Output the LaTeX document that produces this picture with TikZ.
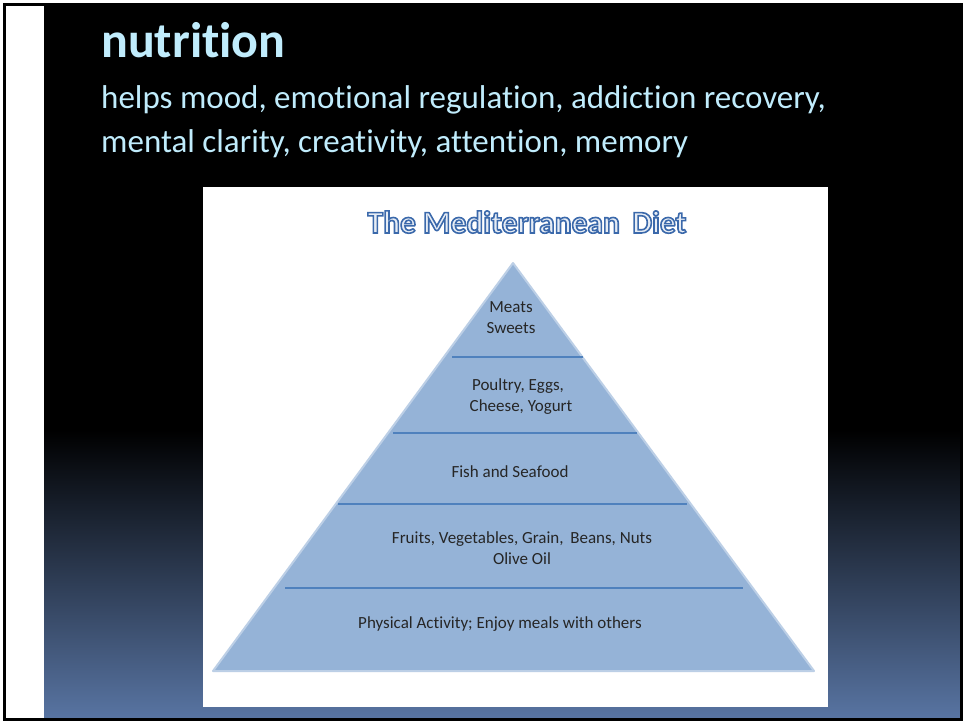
\documentclass[tikz,border=0pt]{standalone}
\usepackage{fontspec}
\setmainfont{Carlito}[Ligatures=NoCommon]
\usepackage{tikz}
\definecolor{headblue}{RGB}{192,236,252}
\definecolor{slatebot}{RGB}{88,116,162}
\definecolor{tierfill}{RGB}{149,179,215}
\definecolor{tieredge}{RGB}{188,207,230}
\definecolor{tierline}{RGB}{79,129,189}
\definecolor{titleblue}{RGB}{58,104,170}
% outlined letters: fill then stroke
\newcommand{\outlinetext}[1]{\special{pdf:literal direct 2 Tr 1.6 w 0.23 0.41 0.67 RG}#1\special{pdf:literal direct 0 Tr}}

\begin{document}
\begin{tikzpicture}[x=1pt, y=-1pt,
  heading/.style={anchor=base west, inner sep=0pt, text=headblue},
  dietname/.style={anchor=base, inner sep=0pt, font=\bfseries\fontsize{31.5}{31.5}\selectfont},
  tierlabel/.style={anchor=base, inner sep=0pt, text=black!85, font=\fontsize{17}{17}\selectfont}]
  \useasboundingbox (0,0) rectangle (965,723);
  \fill[white] (0,0) rectangle (965,723);
  \fill[black] (44,5) rectangle (960,431);
  \shade[top color=black, bottom color=slatebot] (44,430) rectangle (960,718);
  \draw[black, line width=2.2pt] (4.5,4.5) rectangle (961.5,719.5);
  \node[heading, font=\bfseries\fontsize{50}{50}\selectfont] (topic) at (101,57) {nutrition};
  \node[heading, font=\fontsize{33}{33}\selectfont] (benefitsA) at (101,108) {helps mood, emotional regulation, addiction recovery,};
  \node[heading, font=\fontsize{33}{33}\selectfont] (benefitsB) at (101,152) {mental clarity, creativity, attention, memory};
  \fill[white] (203,187) rectangle (828,707);
  \node[dietname, text=white!88!titleblue] (diet) at (527,233) {\outlinetext{The Mediterranean\, Diet}};
  \coordinate (apex) at (513,263);
  \coordinate (baseL) at (213,671);
  \coordinate (baseR) at (814,671);
  \fill[tierfill] (apex) -- (baseR) -- (baseL) -- cycle;
  \draw[tieredge, line width=2pt, line join=round] (apex) -- (baseR) -- (baseL) -- cycle;
  \draw[tierline, line width=1.3pt] (452,357) -- (583,357);
  \draw[tierline, line width=1.3pt] (393,433) -- (637,433);
  \draw[tierline, line width=1.3pt] (338,504) -- (687,504);
  \draw[tierline, line width=1.3pt] (285,588) -- (743,588);
  \node[tierlabel] (meats) at (511,312) {Meats};
  \node[tierlabel] (sweets) at (511,333) {Sweets};
  \node[tierlabel] (poultry) at (518,390) {Poultry, Eggs,};
  \node[tierlabel] (cheese) at (521,411) {Cheese, Yogurt};
  \node[tierlabel] (fish) at (510,477) {Fish and Seafood};
  \node[tierlabel] (fruits) at (522,543) {Fruits, Vegetables, Grain,\, Beans, Nuts};
  \node[tierlabel] (oil) at (522,564) {Olive Oil};
  \node[tierlabel] (activity) at (500,628) {Physical Activity; Enjoy meals with others};
\end{tikzpicture}
\end{document}
